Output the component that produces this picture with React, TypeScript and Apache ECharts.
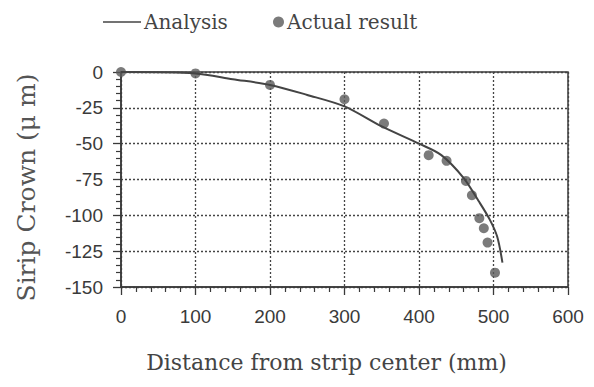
import React, { useEffect, useRef } from "react";
import * as echarts from "echarts";

const analysisX = [0, 100, 150, 200, 250, 300, 350, 400, 430, 460, 480, 495, 505, 512];
const analysisY = [0, -1, -5, -9, -16, -24, -38, -50, -58, -74, -90, -103, -115, -133];

const actualX = [0, 100, 200, 300, 353, 413, 437, 463, 471, 481, 487, 492, 502];
const actualY = [0, -1, -9, -19, -36, -58, -62, -76, -86, -102, -109, -119, -140];

const xTicks = { min: 0, max: 600, interval: 100 };
const yTicks = { min: -150, max: 0, interval: 25 };

const serif = "DejaVu Serif";
const sans = "Liberation Sans";
const ink = "#3a3a3a";

export default function App() {
  const ref = useRef<HTMLDivElement>(null);
  useEffect(() => {
    if (!ref.current) return;
    const chart = echarts.init(ref.current, null, { renderer: "svg" });
    const axisCommon = {
      axisLine: { show: true, onZero: false, lineStyle: { color: ink, width: 1.5 } },
      axisTick: { show: true, inside: false, length: 8, lineStyle: { color: ink, width: 1.3 } },
      minorTick: { show: true, splitNumber: 5, length: 5, lineStyle: { color: ink, width: 1.2 } },
      splitLine: { show: true, lineStyle: { color: "#444", width: 1.3, type: [2, 2] } },
    };
    chart.setOption({
      animation: false,
      backgroundColor: "#ffffff",
      legend: [
        {
          data: [{ name: "Analysis", icon: "rect" }],
          left: 98,
          top: 7,
          itemWidth: 38,
          itemHeight: 1.5,
          itemGap: 0,
          textStyle: { fontFamily: serif, fontSize: 20, color: "#444", padding: [0, 0, 0, -2] },
        },
        {
          data: [{ name: "Actual result", icon: "circle" }],
          left: 268,
          top: 7,
          itemWidth: 11,
          itemHeight: 11,
          textStyle: { fontFamily: serif, fontSize: 20, color: "#444", padding: [0, 0, 0, -2] },
        },
      ],
      grid: {
        left: 121,
        right: 26,
        top: 72,
        bottom: 100,
        show: true,
        borderColor: ink,
        borderWidth: 1.5,
        backgroundColor: "transparent",
      },
      xAxis: {
        type: "value",
        ...xTicks,
        ...axisCommon,
        axisLabel: { fontFamily: sans, fontSize: 19, color: ink, margin: 20 },
        name: "Distance from strip center (mm)",
        nameLocation: "middle",
        nameGap: 64,
        nameTextStyle: { fontFamily: serif, fontSize: 22, color: "#444", padding: [0, 36, 0, 0] },
      },
      yAxis: {
        type: "value",
        ...yTicks,
        ...axisCommon,
        axisLabel: { fontFamily: sans, fontSize: 19, color: ink, margin: 18 },
        name: "Sirip Crown (\u03bc m)",
        nameLocation: "middle",
        nameGap: 82,
        nameTextStyle: { fontFamily: serif, fontSize: 25, color: "#555", padding: [0, 16, 0, 0] },
      },
      series: [
        {
          name: "Analysis",
          type: "line",
          data: analysisX.map((x, i) => [x, analysisY[i]]),
          symbol: "none",
          smooth: 0.3,
          lineStyle: { color: "#444", width: 2 },
          itemStyle: { color: "#444" },
        },
        {
          name: "Actual result",
          type: "scatter",
          data: actualX.map((x, i) => [x, actualY[i]]),
          symbol: "circle",
          symbolSize: 10,
          itemStyle: { color: "#5a5a5a" },
        },
      ],
    });
    return () => chart.dispose();
  }, []);
  return <div ref={ref} style={{ width: 594, height: 387, position: "absolute", left: 0, top: 0 }} />;
}
